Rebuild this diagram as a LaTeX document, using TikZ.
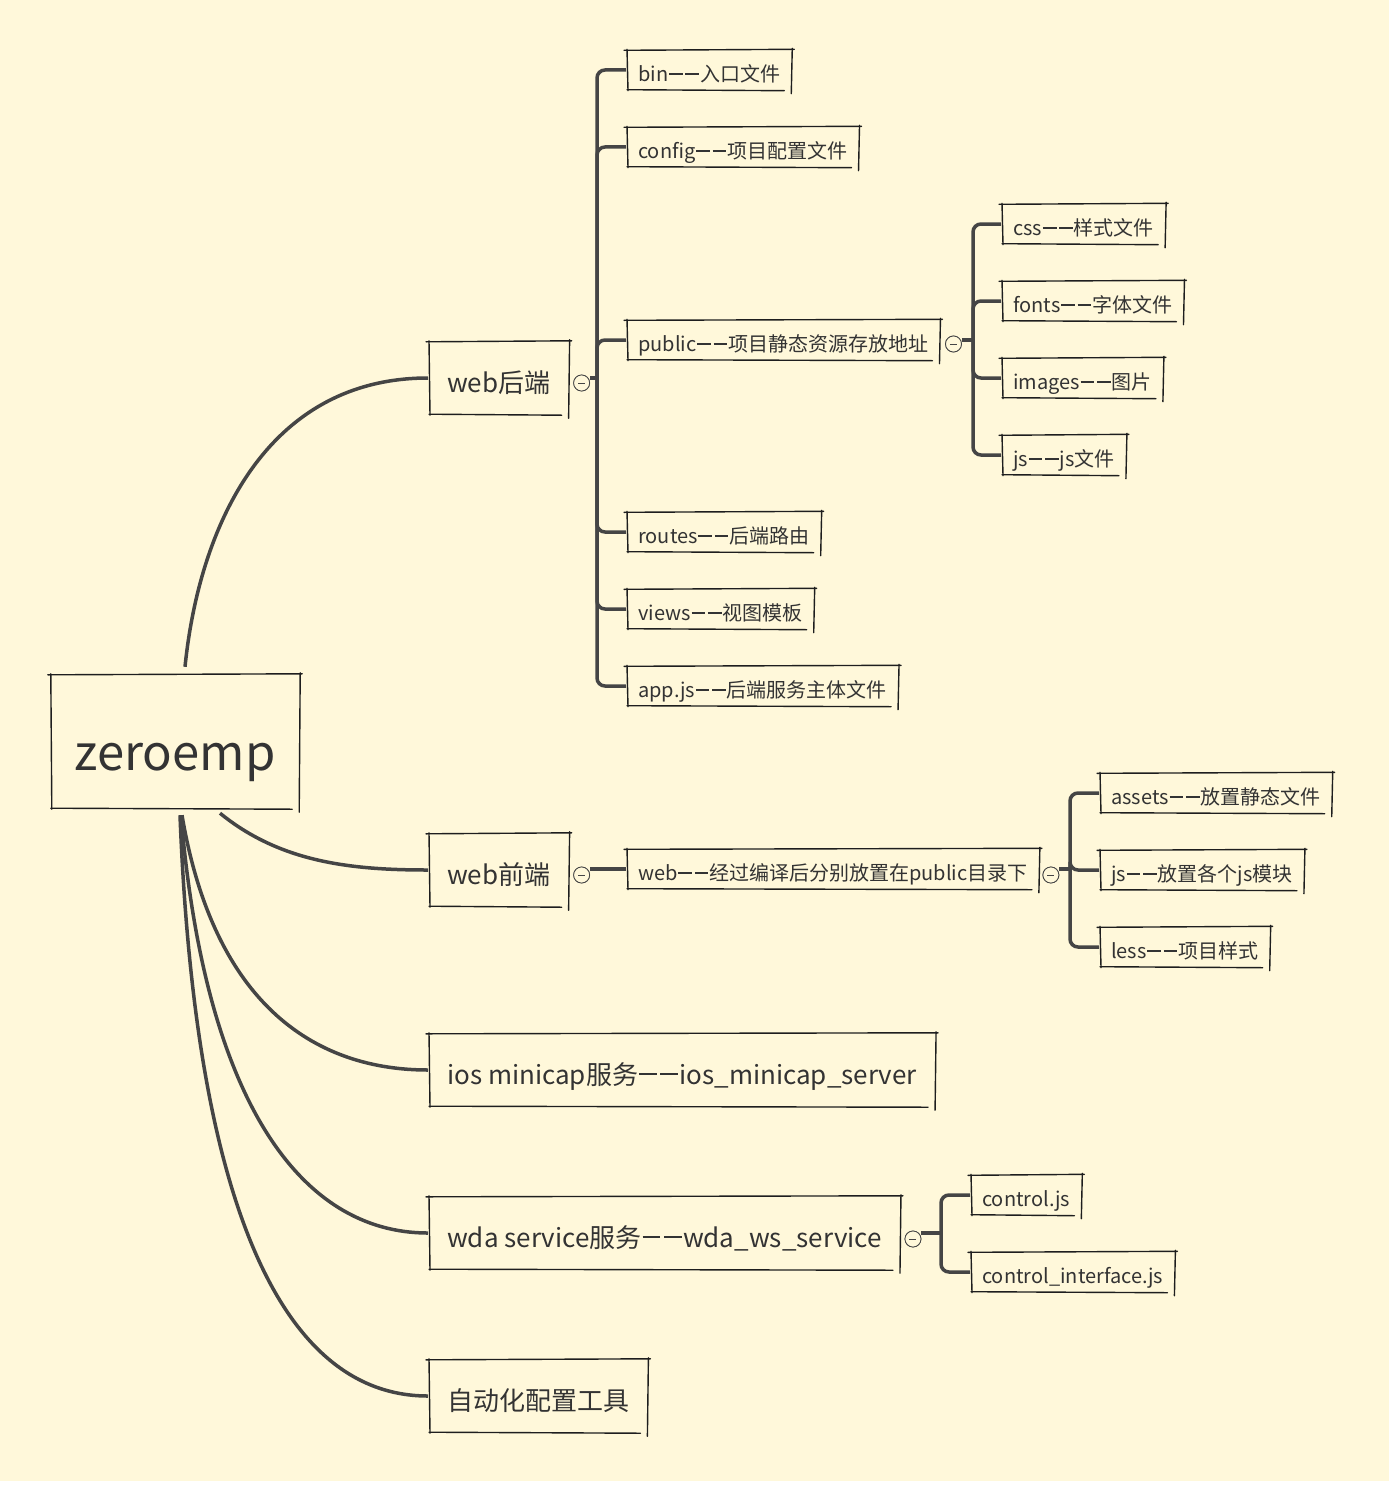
\documentclass[tikz,border=0pt]{standalone}
\usepackage{fontspec}
\setmainfont{Noto Sans CJK SC}
\usetikzlibrary{calc}
\definecolor{bgc}{HTML}{FFF8DA}
\definecolor{linec}{HTML}{454545}
\definecolor{txtc}{HTML}{333333}
\definecolor{boxc}{HTML}{1E1E1E}
\newcommand\dd{\kern0.04em\rule[0.34em]{0.68em}{0.09em}\kern0.14em\rule[0.34em]{0.68em}{0.09em}\kern0.05em}
\newcommand\skbox[1]{%
  \draw[skl] ($(#1.north west)+(-2,0)$) -- ($(#1.north east)+(2,-1)$);
  \draw[skl] ($(#1.north west)+(1,-1)$) -- ($(#1.south west)+(2,1)$);
  \draw[skl] ($(#1.south west)+(1,0)$) -- ($(#1.south east)+(-8,1)$);
  \draw[skl] ($(#1.north east)+(0,-2)$) -- ($(#1.south east)+(-1,4)$);
}
\begin{document}
\begin{tikzpicture}[x=1pt,y=-1pt,
  skl/.style={draw=boxc,line width=1.4pt,line cap=round},
  conn/.style={draw=linec,line width=3.5pt},
  rootbox/.style={text=txtc,font=\fontsize{49pt}{54pt}\selectfont,minimum width=250pt,minimum height=133pt,inner sep=0pt,text height=60pt,text depth=3pt},
  lvlone/.style={text=txtc,font=\fontsize{26pt}{30pt}\selectfont,anchor=west,minimum height=72pt,inner xsep=19pt,inner ysep=0pt,text height=30pt,text depth=2pt},
  lvltwo/.style={text=txtc,font=\fontsize{20pt}{24pt}\selectfont,anchor=west,minimum height=39pt,inner xsep=12pt,inner ysep=0pt,text height=25pt,text depth=2pt},
  fold/.style={circle,draw=linec,line width=0.8pt,fill=bgc,minimum size=16pt,inner sep=0pt,
    path picture={\draw[linec,line width=0.8pt] ([xshift=-3.5pt]path picture bounding box.center) -- ([xshift=3.5pt]path picture bounding box.center);}}
]
\useasboundingbox (0,0) rectangle (1398,1490);
\fill[bgc] (0,0) rectangle (1389,1481);

% root
\node[rootbox] (root) at (175,741.5) {zeroemp};

% level one
\node[lvlone] (w1) at (428,378) {web后端};
\node[lvlone] (w2) at (428,870) {web前端};
\node[lvlone] (w3) at (428,1070) {ios minicap服务\dd ios\_minicap\_server};
\node[lvlone] (w4) at (428,1233) {wda service服务\dd wda\_ws\_service};
\node[lvlone] (w5) at (428,1396) {自动化配置工具};

% web backend children
\node[lvltwo] (a1) at (626,70) {bin\dd 入口文件};
\node[lvltwo] (a2) at (626,147) {config\dd 项目配置文件};
\node[lvltwo] (a3) at (626,340) {public\dd 项目静态资源存放地址};
\node[lvltwo] (a4) at (626,532) {routes\dd 后端路由};
\node[lvltwo] (a5) at (626,609) {views\dd 视图模板};
\node[lvltwo] (a6) at (626,686) {app.js\dd 后端服务主体文件};

% public children
\node[lvltwo] (p1) at (1001,224) {css\dd 样式文件};
\node[lvltwo] (p2) at (1001,301) {fonts\dd 字体文件};
\node[lvltwo] (p3) at (1001,378) {images\dd 图片};
\node[lvltwo] (p4) at (1001,455) {js\dd js文件};

% web frontend children
\node[lvltwo] (f1) at (626,869) {web\dd 经过编译后分别放置在public目录下};
\node[lvltwo] (g1) at (1099,793) {assets\dd 放置静态文件};
\node[lvltwo] (g2) at (1099,870) {js\dd 放置各个js模块};
\node[lvltwo] (g3) at (1099,947) {less\dd 项目样式};

% wda children
\node[lvltwo] (d1) at (970,1195) {control.js};
\node[lvltwo] (d2) at (970,1272) {control\_interface.js};

% bracket points
\coordinate (b1) at (597,378);
\coordinate (b2) at (973,340);
\coordinate (b3) at (1070,869);
\coordinate (b4) at (941,1233);

% root curves
\draw[conn] ($(root.north)+(10,-8)$) .. controls (200,520) and (270,378) .. (w1.west);
\draw[conn] ($(root.south)+(45,5)$) .. controls (280,862) and (350,870) .. (w2.west);
\draw[conn] ($(root.south)+(7,7)$) .. controls (215,1010) and (320,1070) .. (w3.west);
\draw[conn] ($(root.south)+(6,7)$) .. controls (205,1100) and (300,1233) .. (w4.west);
\draw[conn] ($(root.south)+(5,7)$) .. controls (195,1200) and (280,1396) .. (w5.west);

% fold circles
\node[fold] (c1) at ($(w1.east)+(12,5)$) {};
\node[fold] (c2) at ($(a3.east)+(13,4)$) {};
\node[fold] (c3) at ($(w2.east)+(12,5)$) {};
\node[fold] (c4) at ($(f1.east)+(11,6)$) {};
\node[fold] (c5) at ($(w4.east)+(12,6)$) {};

% brackets
\draw[conn] (c1.east |- b1) -- (b1);
\foreach \n in {a1,a2,a3,a4,a5,a6} \draw[conn,rounded corners=8pt] (b1) |- (\n.west);
\draw[conn] (c2.east |- b2) -- (b2);
\foreach \n in {p1,p2,p3,p4} \draw[conn,rounded corners=8pt] (b2) |- (\n.west);
\draw[conn] (c3.east |- f1.west) -- (f1.west);
\draw[conn] (c4.east |- b3) -- (b3);
\foreach \n in {g1,g2,g3} \draw[conn,rounded corners=8pt] (b3) |- (\n.west);
\draw[conn] (c5.east |- b4) -- (b4);
\foreach \n in {d1,d2} \draw[conn,rounded corners=8pt] (b4) |- (\n.west);

% redraw fold circles on top
\foreach \c in {c1,c2,c3,c4,c5} \node[fold] at (\c) {};

% sketchy borders
\foreach \n in {root,w1,w2,w3,w4,w5,a1,a2,a3,a4,a5,a6,p1,p2,p3,p4,f1,g1,g2,g3,d1,d2} {\skbox{\n}}
\end{tikzpicture}
\end{document}
